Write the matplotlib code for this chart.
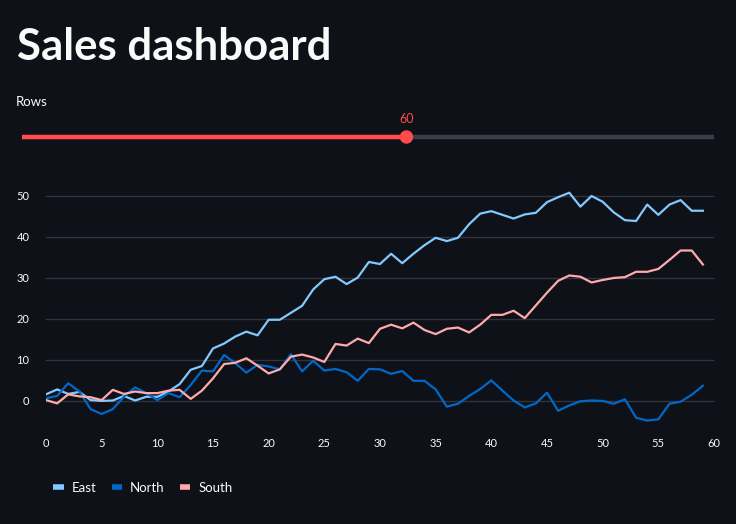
import matplotlib.pyplot as plt
from matplotlib.lines import Line2D
from matplotlib.patches import Circle

# ---- data ----
rows = list(range(60))
east = [1.6, 2.8, 1.7, 2.2, 0.2, 0.0, 0.1, 1.2, 0.1, 1.0,
        1.0, 2.3, 4.1, 7.6, 8.5, 12.8, 14.0, 15.7, 16.9, 16.0,
        19.8, 19.8, 21.5, 23.2, 27.2, 29.7, 30.3, 28.5, 30.1, 33.9,
        33.4, 35.9, 33.6, 35.9, 38.0, 39.8, 39.0, 39.8, 43.1, 45.7,
        46.3, 45.4, 44.5, 45.5, 45.9, 48.5, 49.7, 50.8, 47.4, 50.0,
        48.6, 46.0, 44.1, 43.9, 47.9, 45.4, 47.9, 49.0, 46.4, 46.4]
north = [0.65, 1.2, 4.3, 2.3, -2.0, -3.2, -2.0, 1.0, 3.3, 1.9,
         0.2, 1.9, 0.9, 3.9, 7.4, 7.2, 11.2, 9.2, 6.9, 8.8,
         8.4, 7.7, 11.4, 7.2, 9.8, 7.4, 7.8, 7.0, 4.9, 7.8,
         7.7, 6.6, 7.3, 4.9, 4.9, 2.8, -1.4, -0.7, 1.2, 2.9,
         5.0, 2.5, 0.1, -1.6, -0.6, 2.0, -2.4, -1.1, -0.1, 0.1,
         0.0, -0.7, 0.4, -4.1, -4.8, -4.5, -0.7, -0.2, 1.5, 3.7]
south = [0.2, -0.6, 1.6, 1.1, 0.9, 0.2, 2.7, 1.7, 2.3, 1.9,
         1.9, 2.5, 2.7, 0.5, 2.5, 5.5, 9.0, 9.3, 10.4, 8.6,
         6.7, 7.7, 10.8, 11.3, 10.6, 9.5, 13.9, 13.5, 15.2, 14.1,
         17.6, 18.6, 17.7, 19.1, 17.3, 16.3, 17.6, 17.9, 16.7, 18.6,
         21.0, 21.0, 22.0, 20.2, 23.3, 26.4, 29.3, 30.6, 30.3, 28.9,
         29.5, 30.0, 30.2, 31.5, 31.5, 32.2, 34.4, 36.7, 36.7, 33.3]
series_names = ['East', 'North', 'South']
series_colors = ['#83c9ff', '#0068c9', '#ffabab']

slider_label = 'Rows'
slider_value = 60
slider_min, slider_max = 10, 100

bg = '#0e1117'
text_col = '#fafafa'
grid_col = '#31333f'
red = '#ff4b4b'

plt.rcParams['font.family'] = ['Lato', 'DejaVu Sans']

W, H = 736, 524
fig = plt.figure(figsize=(W / 100, H / 100), dpi=100, facecolor=bg)

# overlay for the page widgets (pixel coordinates, y down)
ui = fig.add_axes([0, 0, 1, 1])
ui.set_xlim(0, W)
ui.set_ylim(H, 0)
ui.axis('off')
ui.patch.set_alpha(0)

ui.text(17, 47, 'Sales dashboard', color=text_col, fontsize=31.5, fontweight='bold',
        va='center', ha='left')
ui.text(16, 102, slider_label, color=text_col, fontsize=9.5, va='center', ha='left')

x0, x1, ys = 22, 714, 137
frac = (slider_value - slider_min) / (slider_max - slider_min)
xv = x0 + frac * (x1 - x0)
ui.plot([x0, x1], [ys, ys], color='#3a3c46', lw=3.2, solid_capstyle='butt')
ui.plot([x0, xv], [ys, ys], color=red, lw=3.2, solid_capstyle='butt')
ui.add_patch(Circle((xv, ys), 6, color=red, zorder=5))
ui.text(xv, 119, str(slider_value), color=red, fontsize=9, ha='center', va='center')

# chart
ax = fig.add_axes([46 / W, (H - 430) / H, 668 / W, (430 - 175.5) / H])
ax.set_facecolor(bg)
for vals, name, col in zip([east, north, south], series_names, series_colors):
    ax.plot(rows, vals, color=col, lw=1.6, label=name)
ax.set_xlim(0, 60)
ax.set_ylim(-7.1, 55)
ax.set_xticks(range(0, 61, 5))
ax.set_yticks(range(0, 51, 10))
ax.grid(axis='y', color=grid_col, lw=1)
ax.set_axisbelow(True)
for s in ax.spines.values():
    s.set_visible(False)
ax.tick_params(length=0, colors=text_col, labelsize=8)
ax.tick_params(axis='y', pad=12)
ax.tick_params(axis='x', pad=6)

handles = [Line2D([], [], color=c, lw=4, solid_capstyle='butt') for c in series_colors]
ax.legend(handles, series_names, loc='center left', bbox_to_anchor=(53 / W, (H - 488) / H),
          bbox_transform=fig.transFigure, ncol=3, frameon=False, fontsize=9.5,
          labelcolor=text_col, handlelength=0.8, handletextpad=0.6, columnspacing=1.15,
          borderpad=0, borderaxespad=0)

fig.savefig('out.png', dpi=100, facecolor=bg)
